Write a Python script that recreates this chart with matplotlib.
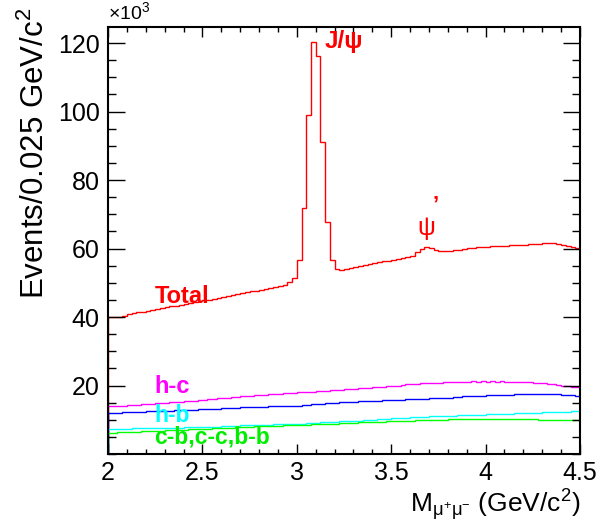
import numpy as np
import matplotlib
matplotlib.use("Agg")
import matplotlib.pyplot as plt

plt.rcParams['font.family'] = ['Liberation Sans', 'DejaVu Sans']
plt.rcParams['mathtext.fontset'] = 'custom'
plt.rcParams['mathtext.rm'] = 'Liberation Sans'
plt.rcParams['mathtext.it'] = 'Liberation Sans:italic'
plt.rcParams['mathtext.bf'] = 'Liberation Sans:bold'

# dimuon mass histogram, 100 bins of 0.025 GeV/c^2 from 2.0 to 4.5 (x 10^3 events)
mass_lo, mass_hi, n_bins = 2.0, 4.5, 100

total = [
    40.0, 40.0, 40.1, 40.3, 40.8, 41.2, 41.4, 41.6, 41.9, 42.1,
    42.4, 42.6, 42.9, 43.1, 43.3, 43.6, 43.9, 44.1, 44.4, 44.7,
    44.9, 45.1, 45.4, 45.6, 45.9, 46.2, 46.5, 46.7, 47.0, 47.3,
    47.5, 47.7, 47.9, 48.1, 48.4, 48.7, 49.0, 49.4, 50.2, 51.4,
    56.8, 71.9, 98.9, 120.4, 116.2, 91.1, 67.8, 56.7, 53.9, 53.6,
    54.0, 54.3, 54.6, 54.9, 55.2, 55.4, 55.7, 56.0, 56.3, 56.5,
    56.8, 57.0, 57.2, 57.4, 57.9, 59.0, 59.9, 60.4, 60.2, 59.7,
    59.4, 59.2, 59.3, 59.5, 59.7, 59.9, 60.1, 60.3, 60.4, 60.4,
    60.5, 60.6, 60.6, 60.7, 60.8, 60.9, 60.9, 61.0, 61.1, 61.2,
    61.3, 61.4, 61.5, 61.6, 61.5, 61.2, 60.9, 60.7, 60.5, 60.3,
]

h_c = [
    13.9, 14.0, 14.1, 14.1, 14.3, 14.4, 14.4, 14.6, 14.7, 14.7,
    14.9, 15.0, 15.0, 15.2, 15.3, 15.3, 15.5, 15.6, 15.6, 15.8,
    15.9, 16.0, 16.1, 16.3, 16.3, 16.5, 16.6, 16.6, 16.8, 16.9,
    17.0, 17.1, 17.1, 17.3, 17.4, 17.4, 17.6, 17.7, 17.8, 17.8,
    18.0, 18.1, 18.2, 18.2, 18.4, 18.5, 18.5, 18.7, 18.8, 18.8,
    19.0, 19.1, 19.1, 19.3, 19.4, 19.4, 19.6, 19.7, 19.7, 19.9,
    20.0, 20.0, 20.2, 20.3, 20.3, 20.5, 20.6, 20.6, 20.7, 20.8,
    20.8, 20.9, 21.0, 20.9, 21.1, 21.1, 21.0, 21.2, 21.1, 21.2,
    21.1, 21.2, 21.1, 21.2, 21.1, 21.1, 21.0, 21.0, 20.9, 20.9,
    20.8, 20.7, 20.6, 20.5, 20.3, 20.2, 20.0, 19.9, 19.7, 19.5,
]

h_x = [
    12.0, 12.1, 12.1, 12.2, 12.3, 12.3, 12.4, 12.4, 12.5, 12.5,
    12.6, 12.6, 12.7, 12.7, 12.8, 12.8, 12.8, 12.9, 12.9, 13.0,
    13.0, 13.1, 13.2, 13.2, 13.3, 13.4, 13.4, 13.5, 13.6, 13.6,
    13.7, 13.7, 13.8, 13.8, 13.9, 13.9, 14.0, 14.0, 14.1, 14.1,
    14.1, 14.3, 14.4, 14.5, 14.6, 14.7, 14.8, 14.8, 15.0, 15.1,
    15.1, 15.2, 15.3, 15.4, 15.4, 15.5, 15.6, 15.6, 15.7, 15.8,
    15.8, 15.9, 15.9, 16.0, 16.1, 16.1, 16.2, 16.2, 16.3, 16.4,
    16.4, 16.5, 16.5, 16.6, 16.7, 16.8, 16.8, 16.9, 16.9, 17.0,
    17.1, 17.1, 17.2, 17.2, 17.3, 17.3, 17.4, 17.4, 17.5, 17.5,
    17.5, 17.5, 17.5, 17.6, 17.5, 17.4, 17.3, 17.2, 17.1, 17.0,
]

h_b = [
    7.3, 7.3, 7.4, 7.4, 7.4, 7.5, 7.5, 7.5, 7.6, 7.6,
    7.6, 7.6, 7.7, 7.7, 7.7, 7.7, 7.8, 7.8, 7.8, 7.8,
    7.9, 7.9, 8.0, 8.0, 8.1, 8.2, 8.2, 8.3, 8.4, 8.4,
    8.5, 8.5, 8.6, 8.6, 8.6, 8.7, 8.7, 8.7, 8.8, 8.8,
    8.8, 8.9, 9.0, 9.1, 9.1, 9.2, 9.3, 9.3, 9.4, 9.5,
    9.5, 9.6, 9.6, 9.7, 9.8, 9.9, 10.0, 10.1, 10.2, 10.3,
    10.4, 10.5, 10.5, 10.6, 10.7, 10.8, 10.8, 10.9, 11.0, 11.0,
    11.1, 11.1, 11.2, 11.2, 11.3, 11.3, 11.4, 11.4, 11.5, 11.5,
    11.6, 11.6, 11.7, 11.7, 11.8, 11.8, 11.9, 11.9, 12.0, 12.0,
    12.1, 12.1, 12.2, 12.2, 12.3, 12.3, 12.4, 12.4, 12.5, 12.5,
]

heavy = [
    6.1, 6.2, 6.3, 6.3, 6.4, 6.5, 6.5, 6.6, 6.7, 6.7,
    6.8, 6.8, 6.9, 7.0, 7.0, 7.1, 7.1, 7.2, 7.2, 7.3,
    7.3, 7.4, 7.5, 7.5, 7.6, 7.7, 7.7, 7.8, 7.9, 8.0,
    8.0, 8.1, 8.1, 8.2, 8.2, 8.3, 8.3, 8.4, 8.4, 8.5,
    8.5, 8.6, 8.6, 8.7, 8.7, 8.8, 8.8, 8.9, 8.9, 9.0,
    9.0, 9.1, 9.1, 9.2, 9.2, 9.3, 9.3, 9.4, 9.4, 9.5,
    9.5, 9.6, 9.6, 9.7, 9.7, 9.8, 9.8, 9.9, 9.9, 10.0,
    10.0, 10.0, 10.1, 10.1, 10.1, 10.2, 10.1, 10.2, 10.2, 10.2,
    10.3, 10.2, 10.3, 10.2, 10.2, 10.2, 10.2, 10.1, 10.1, 10.1,
    10.1, 10.0, 10.0, 10.0, 10.0, 9.9, 9.9, 9.9, 9.9, 9.9,
]

xticks = [2.0, 2.5, 3.0, 3.5, 4.0, 4.5]
xticklabels = ['2', '2.5', '3', '3.5', '4', '4.5']
yticks = [20, 40, 60, 80, 100, 120]
yticklabels = ['20', '40', '60', '80', '100', '120']

edges = np.linspace(mass_lo, mass_hi, n_bins + 1)

fig = plt.figure(figsize=(5.97, 5.26), dpi=100)
ax = fig.add_axes([108 / 597, 1 - 454 / 526, 472 / 597, 427 / 526])

ax.stairs(total, edges, color='red', lw=1)
ax.stairs(h_c, edges, color='magenta', lw=1)
ax.stairs(h_x, edges, color='blue', lw=1)
ax.stairs(h_b, edges, color='cyan', lw=1)
ax.stairs(heavy, edges, color='#00ff00', lw=1)

ax.set_xlim(2.0, 4.5)
ax.set_ylim(0, 124.7)
ax.set_xticks(xticks)
ax.set_xticklabels(xticklabels)
ax.set_xticks(np.arange(2.0, 4.5001, 0.1), minor=True)
ax.set_yticks(yticks)
ax.set_yticklabels(yticklabels)
ax.set_yticks(np.arange(0, 125, 5), minor=True)

ax.tick_params(which='both', direction='in', top=True, right=True, labelsize=18)
ax.tick_params(axis='y', which='major', length=12, width=1, pad=6)
ax.tick_params(axis='y', which='minor', length=6, width=1)
ax.tick_params(axis='x', which='major', length=7.5, width=1, pad=5)
ax.tick_params(axis='x', which='minor', length=3.7, width=1)
for s in ax.spines.values():
    s.set_linewidth(1.5)

# labels in ROOT style
ax.text(0.0, 1.01, r'$\times$10$^{3}$', transform=ax.transAxes, fontsize=14,
        ha='left', va='bottom')
fig.text(35 / 597, 1 - 8 / 526, 'Events/0.025 GeV/c$^{2}$', rotation=90,
         ha='center', va='top', fontsize=22.5)
fig.text(580 / 597, 1 - 523 / 526, r'M$_{\mathrm{\mu^{+}\mu^{-}}}$ (GeV/c$^{2}$)',
         ha='right', va='bottom', fontsize=19)

ax.text(3.149, 120.5, 'J/ψ', color='red', fontsize=17.5, fontweight='bold', va='center')
ax.text(3.64, 66.0, 'ψ', color='red', fontsize=18, va='center')
ax.text(3.72, 72.8, '’', color='red', fontsize=16, fontweight='bold', va='center')
ax.text(2.245, 45.9, 'Total', color='red', fontsize=17, fontweight='bold', va='center')
ax.text(2.245, 19.6, 'h-c', color='magenta', fontsize=17, fontweight='bold', va='center')
ax.text(2.245, 11.3, 'h-b', color='cyan', fontsize=16.5, fontweight='bold', va='center')
ax.text(2.245, 4.9, 'c-b,c-c,b-b', color='#00ee00', fontsize=16.5, fontweight='bold', va='center')

fig.savefig('out.png', dpi=100)
